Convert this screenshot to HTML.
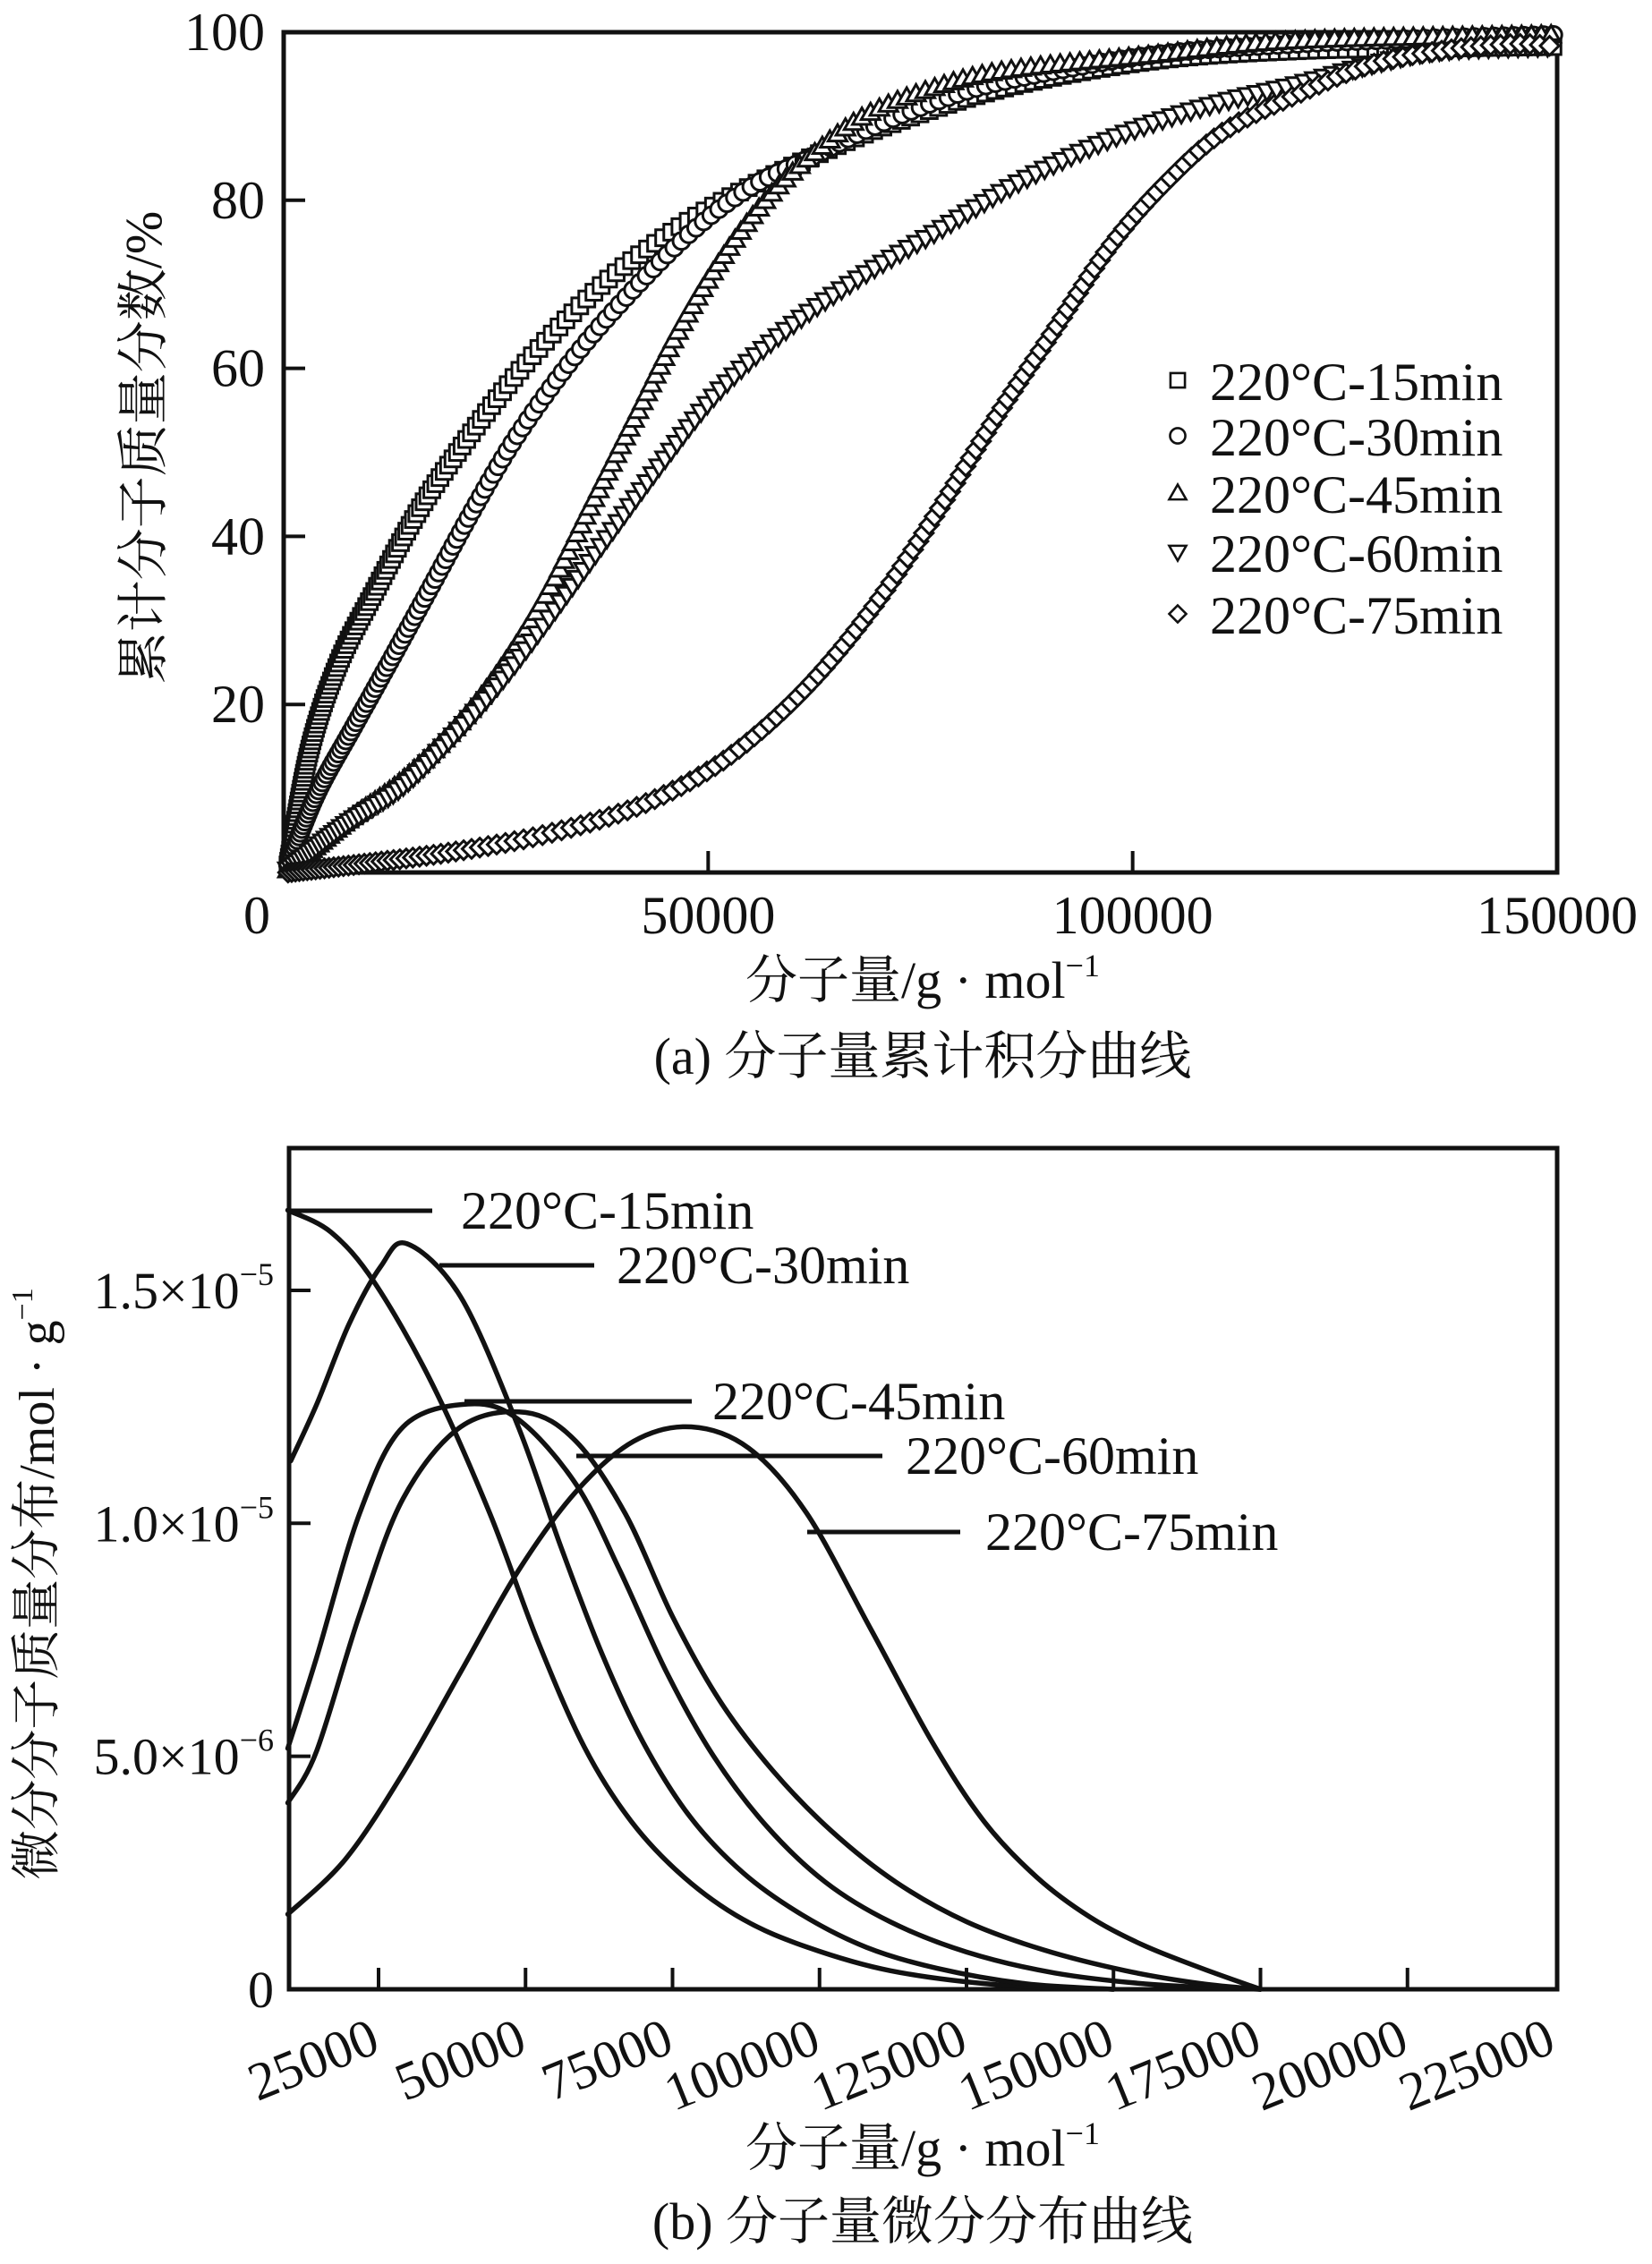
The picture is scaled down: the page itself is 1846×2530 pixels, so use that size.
<!DOCTYPE html>
<html><head><meta charset="utf-8"><style>
html,body{margin:0;padding:0;background:#fff}
svg text{font-family:"Liberation Serif","Noto Serif CJK SC",serif;fill:#111}
</style></head><body>
<svg id="chart" width="1846" height="2525" viewBox="0 0 1846 2525" xmlns="http://www.w3.org/2000/svg">
<g id="topchart"></g>
<g id="botchart"></g>
</svg>
<script>
// ===== Chart (a) data: cumulative mass fraction (%) vs molecular weight =====
const aXTicks = [0, 50000, 100000, 150000];
const aYTicks = [20, 40, 60, 80, 100];
const aSeriesNames = ["220°C-15min","220°C-30min","220°C-45min","220°C-60min","220°C-75min"];
const aMarkers = ["square","circle","up","down","diamond"];
const a15x = [510,3060,6460,10700,15800,20900,26000,31100,37900,44700,51500,61700,71900,85500,102400,119400,136400,150000];
const a15y = [0.9,14.6,24.9,33.4,42.9,50.6,57.5,63.5,70.3,75.5,79.8,84.9,89.2,93.5,96.6,97.8,98.1,98.3];
const a30x = [510,3910,8160,12400,17500,22600,27700,34500,41300,48100,54900,61700,68500,77000,85500,102400,119400,136400,150000];
const a30y = [0.9,9.4,17.2,24.9,34.3,43.7,52.3,61.7,69.5,76.3,81.5,84.9,88.3,91.8,94.3,97.3,98.6,99.3,99.7];
const a45x = [510,7310,14100,20900,26000,31100,36200,41300,46400,51500,56600,61700,68500,77000,85500,102400,119400,150000];
const a45y = [0.3,6.0,11.1,18.0,24.9,33.4,43.7,54.0,64.3,72.9,79.8,84.9,90.1,93.5,95.5,97.3,99.0,99.7];
const a60x = [510,7310,14100,20900,26000,31100,37900,44700,51500,60000,68500,77000,85500,94000,102400,110900,119400,127900,136400,150000];
const a60y = [0.3,5.7,10.3,17.2,23.2,30.0,39.5,48.9,57.5,65.2,71.2,76.3,81.5,85.8,89.2,91.8,93.8,96.1,97.8,98.3];
const a75x = [510,10700,20900,31100,41300,49800,56600,63400,70200,77000,83800,90600,97400,104100,110900,119400,127900,136400,144900,150000];
const a75y = [0,1.2,2.6,4.6,7.7,12.0,17.2,24.0,32.6,42.9,54.0,64.3,74.6,82.3,88.3,92.6,96.1,97.8,98.6,98.3];

// ===== Chart (b) data: differential distribution (×1e-5 mol/g) =====
const bXTicks = [25000,50000,75000,100000,125000,150000,175000,200000,225000];
const bYTicks = [0, 0.5, 1.0, 1.5];
const bYTickLabels = [["0",""],["5.0×10","−6"],["1.0×10","−5"],["1.5×10","−5"]];
const bNames = ["220°C-15min","220°C-30min","220°C-45min","220°C-60min","220°C-75min"];
const b15x = [9560,16900,24300,34100,43900,52000,60000,68000,77000,87000,98000,112000,130000,150000];
const b15y = [1.672,1.625,1.517,1.300,1.022,0.75,0.52,0.36,0.24,0.15,0.09,0.04,0.01,0];
const b30x = [10070,14570,19960,25360,29860,38970,48770,56000,63000,70000,78000,87000,97000,108000,120000,135000,150000];
const b30y = [1.134,1.258,1.427,1.551,1.600,1.486,1.207,0.95,0.72,0.53,0.37,0.25,0.16,0.09,0.045,0.012,0];
const b45x = [9560,14460,21800,29170,40200,48770,58580,66000,74000,82000,91000,101000,112000,125000,140000,157000,175000];
const b45y = [0.517,0.712,1.022,1.207,1.256,1.223,1.084,0.90,0.68,0.50,0.35,0.23,0.145,0.08,0.035,0.01,0];
const b60x = [9560,14460,21800,29170,38970,50000,58580,67000,75000,83000,92000,102000,113000,125000,138000,152000,165000,175000];
const b60y = [0.400,0.511,0.805,1.053,1.207,1.238,1.176,1.02,0.80,0.62,0.47,0.34,0.23,0.145,0.085,0.04,0.012,0];
const b75x = [9560,19360,29170,38970,48770,58580,68380,78190,87990,97800,108720,119190,128000,137000,146000,155000,165000,175000];
const b75y = [0.161,0.279,0.464,0.681,0.898,1.068,1.176,1.207,1.161,1.022,0.773,0.53,0.36,0.24,0.155,0.095,0.045,0];

const NS="http://www.w3.org/2000/svg";
function mk(parent,tag,attrs,txt){const e=document.createElementNS(NS,tag);for(const k in attrs)e.setAttribute(k,attrs[k]);if(txt!==undefined)e.textContent=txt;parent.appendChild(e);return e;}
function smooth(pts){let d=`M${pts[0][0]},${pts[0][1]}`;for(let i=0;i<pts.length-1;i++){const p0=pts[Math.max(0,i-1)],p1=pts[i],p2=pts[i+1],p3=pts[Math.min(pts.length-1,i+2)];const c1=[p1[0]+(p2[0]-p0[0])/6,p1[1]+(p2[1]-p0[1])/6],c2=[p2[0]-(p3[0]-p1[0])/6,p2[1]-(p3[1]-p1[1])/6];d+=`C${c1[0]},${c1[1]} ${c2[0]},${c2[1]} ${p2[0]},${p2[1]}`;}return d;}
function supText(parent,attrs,main,sup,supSize,dy){const t=mk(parent,'text',attrs);t.appendChild(document.createTextNode(main));if(sup){mk(t,'tspan',{'font-size':supSize,dy:dy},sup);}return t;}

// ===== Chart (a) =====
const topG=document.getElementById('topchart');
const aL=317,aR=1740,aT=36,aB=975;
const ax=v=>aL+(v-0)/150000*(aR-aL);
const ay=v=>aB-(v/100)*(aB-aT);
let e;
e=mk(topG,'rect',{x:aL,y:aT,width:aR-aL,height:aB-aT,fill:'none',stroke:'#111','stroke-width':5});


aXTicks.forEach(t=>{
  if(t>0&&t<150000){e=mk(topG,'line',{x1:ax(t),x2:ax(t),y1:aB,y2:aB-24,stroke:'#111','stroke-width':4});
  
  }
  e=mk(topG,'text',{x:t===0?ax(t)-30:ax(t),y:1043,'font-size':60,'text-anchor':'middle'},String(t));
  
  
});
aYTicks.forEach(t=>{
  if(t<100){e=mk(topG,'line',{x1:aL,x2:aL+24,y1:ay(t),y2:ay(t),stroke:'#111','stroke-width':4});
  
  }
  e=mk(topG,'text',{x:296,y:ay(t)+20,'font-size':60,'text-anchor':'end'},String(t));
  
  
});
e=mk(topG,'text',{x:0,y:0,'font-size':58,'text-anchor':'middle',transform:'translate(180,500) rotate(-90)'},'累计分子质量分数/%');


e=supText(topG,{x:1031,y:1115,'font-size':58,'text-anchor':'middle'},'分子量/g · mol','−1',36,-24);


e=mk(topG,'text',{x:1031,y:1200,'font-size':58,'text-anchor':'middle'},'(a) 分子量累计积分曲线');



function marker(g,type,x,y,s){
  const h=s/2;let el;
  if(type==='square')el=mk(g,'rect',{x:x-h*0.85,y:y-h*0.85,width:s*0.85,height:s*0.85});
  else if(type==='circle')el=mk(g,'circle',{cx:x,cy:y,r:h*0.9});
  else if(type==='up')el=mk(g,'polygon',{points:`${x},${y-h} ${x+h},${y+h*0.75} ${x-h},${y+h*0.75}`});
  else if(type==='down')el=mk(g,'polygon',{points:`${x},${y+h} ${x+h},${y-h*0.75} ${x-h},${y-h*0.75}`});
  else el=mk(g,'polygon',{points:`${x},${y-h} ${x+h},${y} ${x},${y+h} ${x-h},${y}`});
  return el;
}
const aXs=[a15x,a30x,a45x,a60x,a75x],aYs=[a15y,a30y,a45y,a60y,a75y];
aXs.forEach((xs,si)=>{
  const g=mk(topG,'g',{fill:'#fff',stroke:'#111','stroke-width':3});
  
  
  const pts=xs.map((v,i)=>[ax(v),ay(aYs[si][i])]);
  const p=mk(g,'path',{d:smooth(pts),fill:'none',stroke:'none'});
  let L=0;
  try{L=p.getTotalLength();}catch(err){L=0;}
  let s=0;
  while(s<=L){
    const q=p.getPointAtLength(s);
    const m=marker(g,aMarkers[si],q.x,q.y,21);
    
    
    const dist=q.x-aL;
    s+= Math.min(11, 4+dist*0.025);
  }
});
// legend
const legY=[427,489,553,619,688];
aSeriesNames.forEach((n,i)=>{
  const g=mk(topG,'g',{});
  
  
  const m=marker(g,aMarkers[i],1316,legY[i]-2,19);
  m.setAttribute('fill','#fff');m.setAttribute('stroke','#111');m.setAttribute('stroke-width',2.6);
  mk(g,'text',{x:1352,y:legY[i]+20,'font-size':60},n);
});

// ===== Chart (b) =====
const botG=document.getElementById('botchart');
const bL=323,bR=1740,bT=1283,bB=2223;
const bx=v=>423+(v-25000)/25000*164.25;
const by=v=>bB-v*520.7;
e=mk(botG,'rect',{x:bL,y:bT,width:bR-bL,height:bB-bT,fill:'none',stroke:'#111','stroke-width':5});


bXTicks.forEach(t=>{
  if(bx(t)<bR-5){e=mk(botG,'line',{x1:bx(t),x2:bx(t),y1:bB,y2:bB-24,stroke:'#111','stroke-width':4});
  
  }
  e=mk(botG,'text',{x:0,y:0,'font-size':60,'text-anchor':'end',transform:`translate(${bx(t)+4},2292) rotate(-22)`},String(t));
  
  
});
bYTicks.forEach((t,i)=>{
  if(t>0){e=mk(botG,'line',{x1:bL,x2:bL+24,y1:by(t),y2:by(t),stroke:'#111','stroke-width':4});
  
  }
  e=supText(botG,{x:306,y:by(t)+20,'font-size':58,'text-anchor':'end'},bYTickLabels[i][0],bYTickLabels[i][1],36,-26);
  
  
});
e=supText(botG,{x:0,y:0,'font-size':56,'text-anchor':'middle',transform:'translate(60,1770) rotate(-90)'},'微分分子质量分布/mol · g','−1',34,-24);


e=supText(botG,{x:1031,y:2420,'font-size':58,'text-anchor':'middle'},'分子量/g · mol','−1',36,-24);


e=mk(botG,'text',{x:1031,y:2502,'font-size':58,'text-anchor':'middle'},'(b) 分子量微分分布曲线');



const bXs=[b15x,b30x,b45x,b60x,b75x],bYs=[b15y,b30y,b45y,b60y,b75y];
bXs.forEach((xs,si)=>{
  const pts=xs.map((v,i)=>[bx(v),by(bYs[si][i])]);
  e=mk(botG,'path',{d:smooth(pts),fill:'none',stroke:'#111','stroke-width':5.5,'stroke-linecap':'round'});
  
  
});
// annotation leaders
const ann=[[322,483,1353,515],[491,664,1414,689],[519,773,1566,796],[644,986,1627,1012],[902,1073,1712,1101]];
ann.forEach((a,i)=>{
  const g=mk(botG,'g',{});
  
  
  mk(g,'line',{x1:a[0],x2:a[1],y1:a[2],y2:a[2],stroke:'#111','stroke-width':5});
  mk(g,'text',{x:a[3],y:a[2]+20,'font-size':60},bNames[i]);
});
</script>
</body></html>
